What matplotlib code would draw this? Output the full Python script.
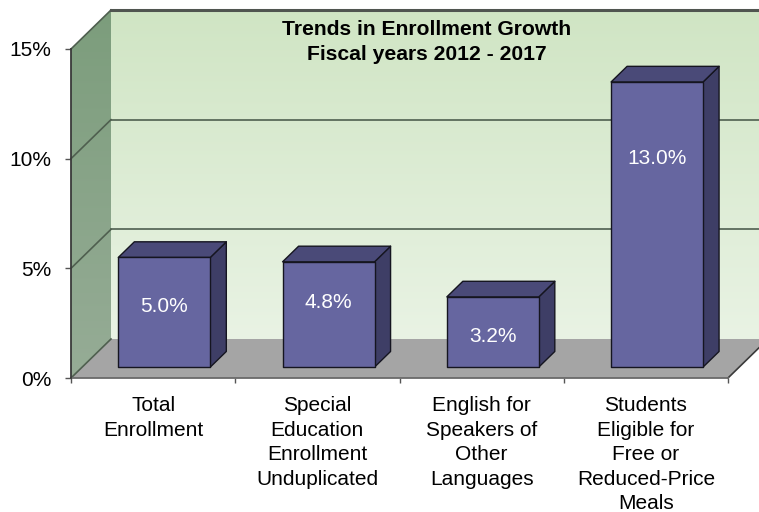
import matplotlib
matplotlib.use("Agg")
import matplotlib.pyplot as plt
import numpy as np
from matplotlib.patches import Polygon
from matplotlib.ticker import FixedLocator

plt.rcParams["font.family"] = ["Liberation Sans", "DejaVu Sans"]

categories = [
    "Total\nEnrollment",
    "Special\nEducation\nEnrollment\nUnduplicated",
    "English for\nSpeakers of\nOther\nLanguages",
    "Students\nEligible for\nFree or\nReduced-Price\nMeals",
]
growth_pct = [5.0, 4.8, 3.2, 13.0]
y_ticks = [0, 5, 10, 15]
title_lines = ["Trends in Enrollment Growth", "Fiscal years 2012 - 2017"]

# oblique projection: how far the back of the box is shifted (data units)
DX = 40 / 164.25
DY = 39 / 21.93
BAR_W = 0.56
D_FRONT, D_BACK = 0.28, 0.68
LABEL_FRAC = [0.55, 0.61, 0.43, 0.73]
FS = 15

FRONT_C = "#6666a0"
TOP_C = "#4a4a78"
SIDE_C = "#3e3e66"
GRID_C = "#4f5f4f"


def proj(x, y, d):
    return (x + d * DX, y + d * DY)


fig = plt.figure(figsize=(7.59, 5.12), dpi=100)
ax = fig.add_axes([71 / 759, 134 / 512, 657 / 759, 329 / 512])
ax.set_xlim(0, len(categories))
ax.set_ylim(0, y_ticks[-1])
ax.patch.set_visible(False)
ymax = y_ticks[-1]
nx = len(categories)

# back wall with a soft vertical gradient
grad = np.linspace(0, 1, 256)[:, None]
back_top = np.array([208, 229, 196]) / 255
back_bot = np.array([233, 243, 228]) / 255
back_img = back_top * (1 - grad[..., None]) + back_bot * grad[..., None]
ax.imshow(back_img, extent=(DX, nx + DX, DY, ymax + DY), origin="upper",
          aspect="auto", zorder=0, clip_on=False)

# left side wall
side_top = np.array([124, 157, 124]) / 255
side_bot = np.array([150, 172, 150]) / 255
side_img = side_top * (1 - grad[..., None]) + side_bot * grad[..., None]
side_poly = Polygon([proj(0, 0, 0), proj(0, 0, 1), proj(0, ymax, 1), proj(0, ymax, 0)],
                    closed=True, transform=ax.transData, facecolor="none", edgecolor="none")
ax.add_patch(side_poly)
im = ax.imshow(side_img, extent=(0, DX, 0, ymax + DY), origin="upper",
               aspect="auto", zorder=0)
im.set_clip_path(side_poly)
im.set_clip_box(fig.bbox)

# floor
floor = Polygon([proj(0, 0, 0), proj(nx, 0, 0), proj(nx, 0, 1), proj(0, 0, 1)],
                closed=True, facecolor="#a5a5a5", edgecolor="none", zorder=1, clip_on=False)
ax.add_patch(floor)
fx, fy = zip(proj(nx, 0, 0), proj(nx, 0, 1))
ax.plot(fx, fy, color="#3a3a3a", lw=1.2, zorder=2, clip_on=False)

# gridlines on back and side walls
for t in y_ticks:
    (x0, y0), (x1, y1) = proj(0, t, 0), proj(0, t, 1)
    ax.plot([x0, x1], [y0, y1], color=GRID_C, lw=1.2, zorder=2, clip_on=False)
    if t > 0:
        bx0, by0 = proj(0, t, 1)
        bx1, by1 = proj(nx, t, 1)
        ax.plot([bx0, bx1], [by0, by1], color=GRID_C if t < ymax else "#505550",
                lw=1.2 if t < ymax else 2.2, zorder=2, clip_on=False)

# 3D style bars
for i, v in enumerate(growth_pct):
    xl = i + 0.5 - BAR_W / 2
    xr = i + 0.5 + BAR_W / 2
    front = [proj(xl, 0, D_FRONT), proj(xr, 0, D_FRONT), proj(xr, v, D_FRONT), proj(xl, v, D_FRONT)]
    top = [proj(xl, v, D_FRONT), proj(xr, v, D_FRONT), proj(xr, v, D_BACK), proj(xl, v, D_BACK)]
    side = [proj(xr, 0, D_FRONT), proj(xr, 0, D_BACK), proj(xr, v, D_BACK), proj(xr, v, D_FRONT)]
    for pts, fc in ((side, SIDE_C), (top, TOP_C), (front, FRONT_C)):
        ax.add_patch(Polygon(pts, closed=True, facecolor=fc, edgecolor="#151520",
                             lw=1.0, joinstyle="round", zorder=3, clip_on=False))
    lx, ly = proj(i + 0.5, v * LABEL_FRAC[i], D_FRONT)
    ax.text(lx, ly, f"{v:.1f}%", color="white", fontsize=FS,
            ha="center", va="center", zorder=4)

# axes, ticks and labels
for s in ("top", "right"):
    ax.spines[s].set_visible(False)
ax.spines["left"].set_color("#3a3a3a")
ax.spines["left"].set_linewidth(1.3)
ax.spines["left"].set_zorder(5)
ax.spines["bottom"].set_color("#6a6a6a")
ax.spines["bottom"].set_linewidth(1.3)

ax.set_yticks(y_ticks)
ax.set_yticklabels([f"{t}%" for t in y_ticks], fontsize=FS)
ax.tick_params(axis="y", direction="out", length=4.3, width=1, color="#555555", pad=10)

ax.xaxis.set_major_locator(FixedLocator(np.arange(nx + 1)))
ax.xaxis.set_minor_locator(FixedLocator(np.arange(nx) + 0.5))
ax.set_xticklabels([], minor=False)
ax.set_xticklabels(categories, minor=True, fontsize=FS)
ax.tick_params(axis="x", which="major", direction="out", length=3.6, width=1, color="#555555")
ax.tick_params(axis="x", which="minor", length=0, pad=13)
for lbl in ax.get_xticklabels(minor=True):
    lbl.set_linespacing(1.37)
    lbl.set_verticalalignment("top")

fig.text(427 / 759, 1 - 42 / 512, "\n".join(title_lines), ha="center", va="center",
         fontsize=15.2, fontweight="bold", linespacing=1.36)

fig.savefig("out.png", dpi=100)
